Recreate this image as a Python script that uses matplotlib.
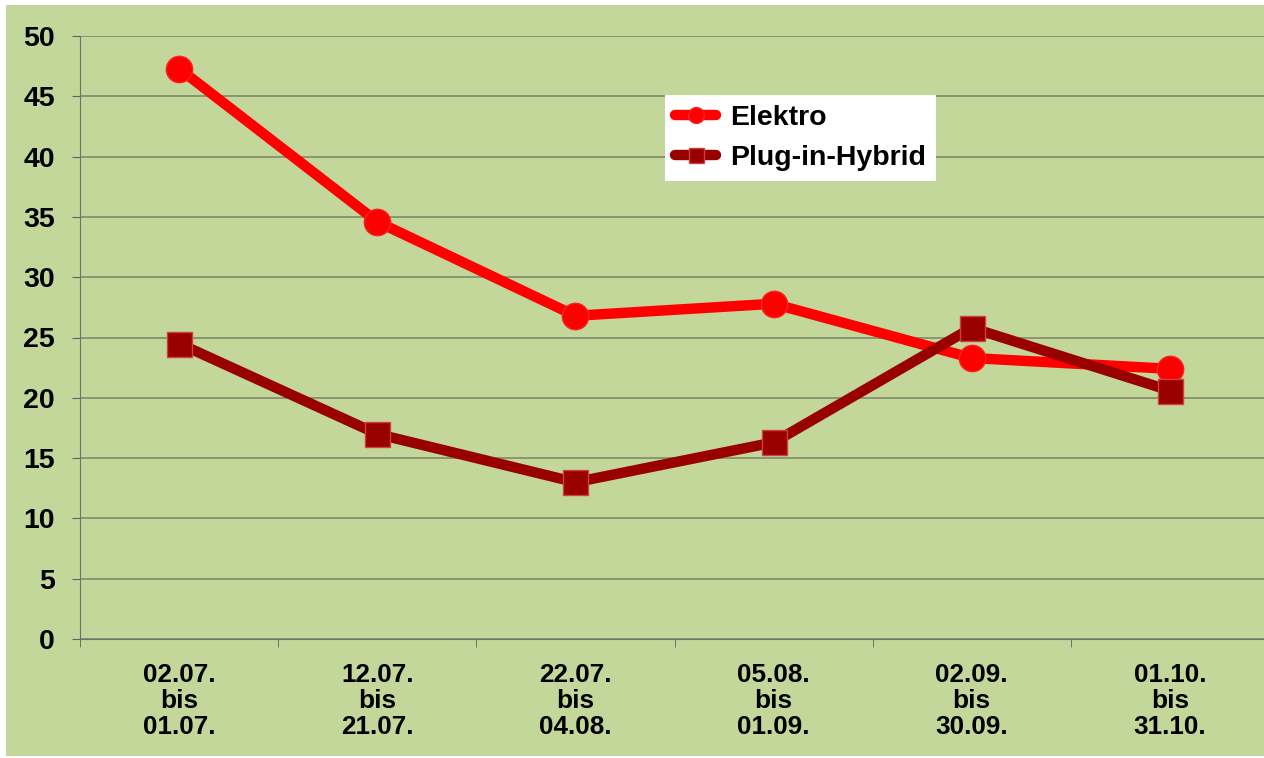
import numpy as np
import matplotlib.pyplot as plt
from matplotlib.patches import Rectangle

plt.rcParams['font.family'] = ['Liberation Sans', 'DejaVu Sans']
plt.rcParams['font.weight'] = 'bold'

# data
categories = ['02.07.\nbis\n01.07.', '12.07.\nbis\n21.07.', '22.07.\nbis\n04.08.',
              '05.08.\nbis\n01.09.', '02.09.\nbis\n30.09.', '01.10.\nbis\n31.10.']
elektro = [47.3, 34.6, 26.8, 27.8, 23.3, 22.4]
hybrid = [24.5, 17.0, 13.0, 16.3, 25.8, 20.6]
yticks = [0, 5, 10, 15, 20, 25, 30, 35, 40, 45, 50]

W, H = 1264, 758
fig = plt.figure(figsize=(W / 100, H / 100), dpi=100)
fig.patch.set_facecolor('white')
# green chart area
fig.patches.append(Rectangle((6 / W, 2 / H), 1, 1 - 7 / H, transform=fig.transFigure,
                             facecolor='#c4d79b', edgecolor='none', zorder=-10))

left, right, top, bottom = 80, 1269, 36, 639
ax = fig.add_axes([left / W, 1 - bottom / H, (right - left) / W, (bottom - top) / H])
ax.set_facecolor('none')

x = np.arange(len(categories))
ax.plot(x, elektro, color='#ff0000', lw=7.5, marker='o', ms=19, mfc='#ff0000',
        mec='#ff2020', solid_joinstyle='round', solid_capstyle='round',
        label='Elektro', zorder=3)
ax.plot(x, hybrid, color='#990000', lw=7.5, marker='s', ms=18, mfc='#990000',
        mec='#d04040', mew=1, solid_joinstyle='round', solid_capstyle='round',
        label='Plug-in-Hybrid', zorder=4)

ax.set_xlim(-0.5, len(categories) - 0.5)
ax.set_ylim(0, 50)
ax.set_yticks(yticks)
ax.set_yticklabels([str(v) for v in yticks], fontsize=20.5, fontweight='bold')
ax.set_xticks(x)
ax.set_xticklabels(categories, fontsize=18.8, fontweight='bold', linespacing=1.12)
ax.set_xticks(np.arange(-0.5, len(categories) + 0.5, 1), minor=True)
ax.tick_params(axis='x', which='major', length=0, pad=17)
ax.tick_params(axis='x', which='minor', length=6, color='#606060', direction='out')
ax.tick_params(axis='y', length=6, color='#606060', pad=12)

ax.grid(axis='y', color='#7a8468', lw=1.1)
for s in ['top', 'right']:
    ax.spines[s].set_visible(False)
ax.spines['left'].set_color('#707070')
ax.spines['bottom'].set_color('#707070')

leg = ax.legend(loc='upper left', bbox_to_anchor=(665 / W, 1 - 95 / H),
                bbox_transform=fig.transFigure, frameon=True, fancybox=False,
                framealpha=1, edgecolor='none', facecolor='white',
                prop={'family': 'Liberation Sans', 'weight': 'bold', 'size': 20.5},
                markerscale=0.6, handlelength=1.45, handletextpad=0.5,
                borderaxespad=0, labelspacing=0.5, borderpad=0.35)

fig.savefig('out.png', dpi=100)
